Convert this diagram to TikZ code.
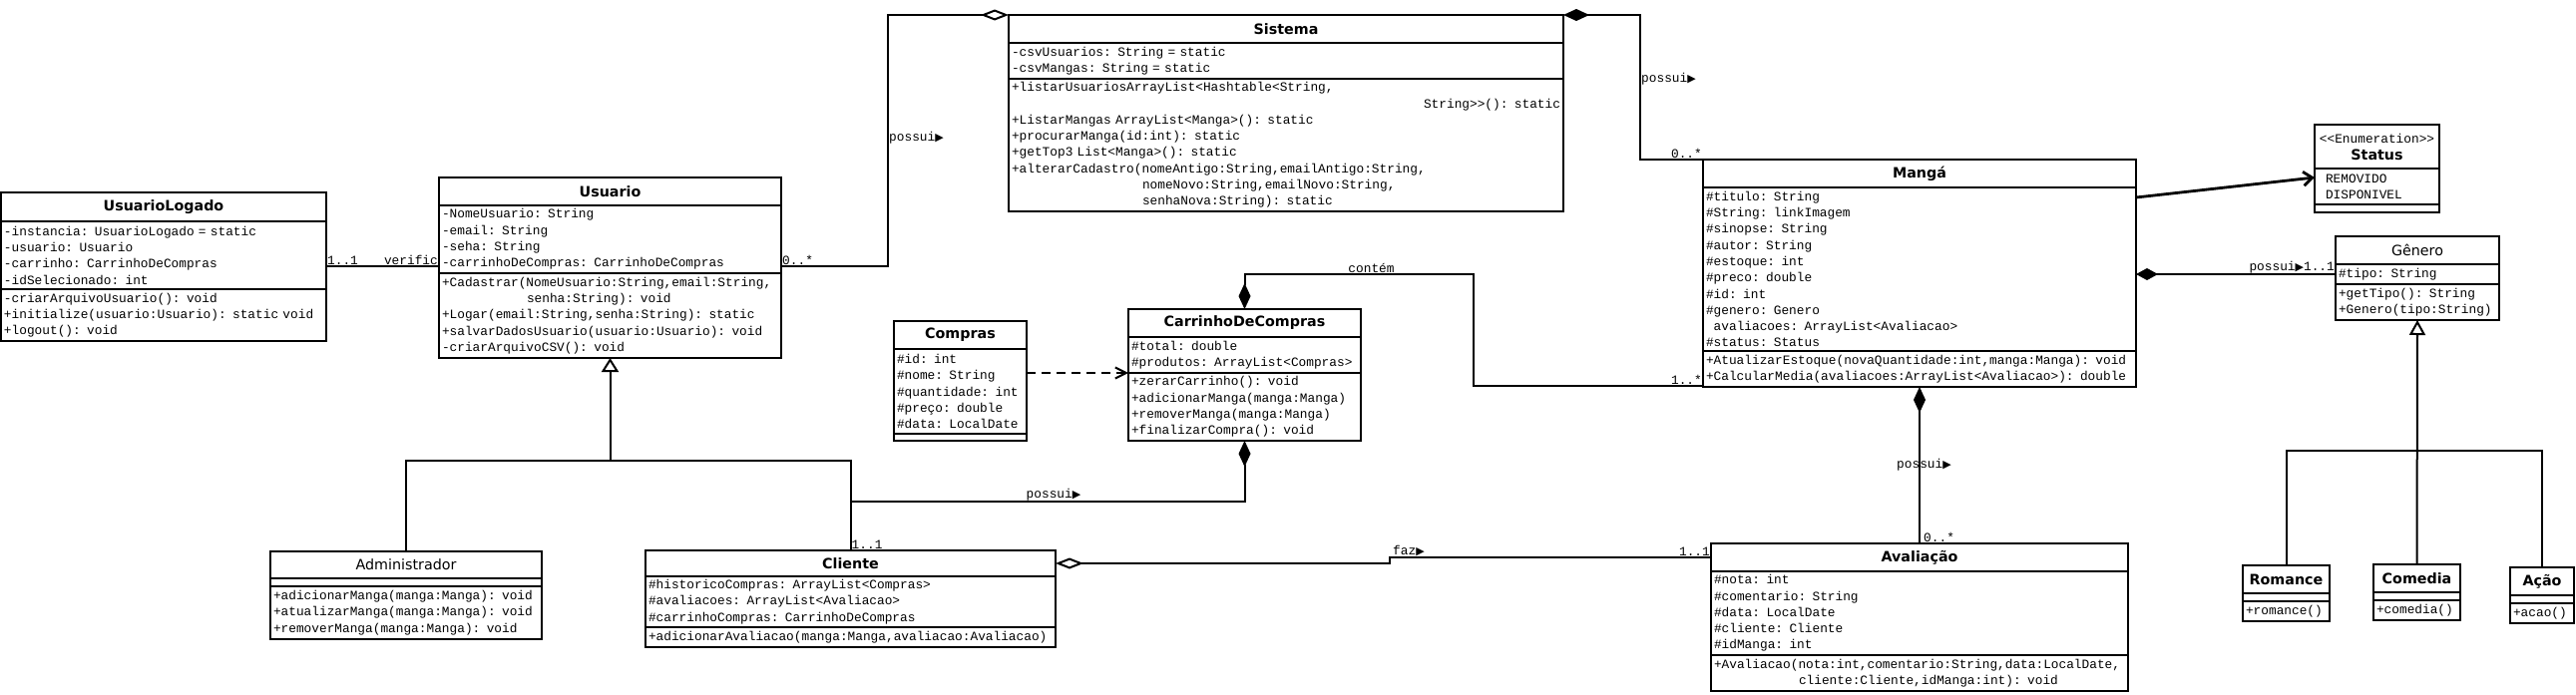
\documentclass[tikz,border=0pt]{standalone}
\usepackage{fontspec}
\setmonofont{Liberation Mono}
\newfontfamily\clsfont{DejaVu Sans}
\newfontfamily\trifont{DejaVu Sans}
\usetikzlibrary{arrows.meta}
\usetikzlibrary{calc}
\usetikzlibrary{positioning}

\newcommand{\membfont}{\ttfamily\fontsize{12.8}{16.3}\selectfont}
\newcommand{\dirtri}{{\trifont\fontsize{11}{11}\selectfont ▶}}

\begin{document}
\begin{tikzpicture}[x=1pt, y=-1pt,
	cname/.style={rectangle, draw=black, line width=2pt, fill=white, outer sep=0pt, inner xsep=3pt, inner ysep=0pt, anchor=north west, align=center, font=\clsfont\fontsize{14.3}{17}\selectfont\bfseries},
	cnamereg/.style={cname, font=\clsfont\fontsize{14.3}{17}\selectfont},
	cpart/.style={rectangle, draw=black, line width=2pt, fill=white, outer sep=0pt, inner xsep=3pt, inner ysep=0pt, anchor=north west, align=left, font=\membfont},
	lbl/.style={inner sep=1pt, font=\membfont},
	conn/.style={line width=2pt}]

\useasboundingbox (0,0) rectangle (2582,696);

% UsuarioLogado
\node at (1,193)[cname, text width=320pt, minimum height=29pt] (ulogado) {UsuarioLogado};
\node at (ulogado.south west)[cpart, text width=320pt, minimum height=68pt] (ulogadoA) {-instancia: UsuarioLogado = static\\-usuario: Usuario\\-carrinho: CarrinhoDeCompras\\-idSelecionado: int};
\node at (ulogadoA.south west)[cpart, text width=320pt, minimum height=52pt] (ulogadoM) {-criarArquivoUsuario(): void\\+initialize(usuario:Usuario): static void\\+logout(): void};

% Usuario
\node at (440,178)[cname, text width=337pt, minimum height=28pt] (usuario) {Usuario};
\node at (usuario.south west)[cpart, text width=337pt, minimum height=68pt] (usuarioA) {-NomeUsuario: String\\-email: String\\-seha: String\\-carrinhoDeCompras: CarrinhoDeCompras};
\node at (usuarioA.south west)[cpart, text width=337pt, minimum height=85pt] (usuarioM) {+Cadastrar(NomeUsuario:String,email:String,\\\hspace*{85pt}senha:String): void\\+Logar(email:String,senha:String): static\\+salvarDadosUsuario(usuario:Usuario): void\\-criarArquivoCSV(): void};

% Sistema
\node at (1011,15)[cname, text width=550pt, minimum height=28pt] (sistema) {Sistema};
\node at (sistema.south west)[cpart, text width=550pt, minimum height=36pt] (sistemaA) {-csvUsuarios: String = static\\-csvMangas: String = static};
\node at (sistemaA.south west)[cpart, text width=550pt, minimum height=133pt] (sistemaM) {+listarUsuariosArrayList<Hashtable<String,\\\hspace*{\fill}String>{}>(): static\\+ListarMangas ArrayList<Manga>(): static\\+procurarManga(id:int): static\\+getTop3 List<Manga>(): static\\+alterarCadastro(nomeAntigo:String,emailAntigo:String,\\\hspace*{131pt}nomeNovo:String,emailNovo:String,\\\hspace*{131pt}senhaNova:String): static};

% Manga
\node at (1707,160)[cname, text width=428pt, minimum height=28pt] (manga) {Mangá};
\node at (manga.south west)[cpart, text width=428pt, minimum height=164pt] (mangaA) {\#titulo: String\\\#String: linkImagem\\\#sinopse: String\\\#autor: String\\\#estoque: int\\\#preco: double\\\#id: int\\\#genero: Genero\\\hspace*{7.7pt}avaliacoes: ArrayList<Avaliacao>\\\#status: Status};
\node at (mangaA.south west)[cpart, text width=428pt, minimum height=36pt] (mangaM) {+AtualizarEstoque(novaQuantidade:int,manga:Manga): void\\+CalcularMedia(avaliacoes:ArrayList<Avaliacao>): double};

% Status
\node at (2320,125)[cname, text width=119pt, minimum height=44pt] (status) {{\membfont\mdseries <{}<Enumeration>{}>}\\Status};
\node at (status.south west)[cpart, text width=119pt, minimum height=36pt] (statusA) {\hspace*{8pt}REMOVIDO\\\hspace*{8pt}DISPONIVEL};
\node at (statusA.south west)[cpart, minimum width=125pt, minimum height=8pt] (statusM) {};

% Genero
\node at (2341,237)[cnamereg, text width=158pt, minimum height=28pt] (genero) {Gênero};
\node at (genero.south west)[cpart, text width=158pt, minimum height=20pt] (generoA) {\#tipo: String};
\node at (generoA.south west)[cpart, text width=158pt, minimum height=36pt] (generoM) {+getTipo(): String\\+Genero(tipo:String)};

% Romance, Comedia, Acao
\node at (2248,567)[cname, text width=81pt, minimum height=28pt] (romance) {Romance};
\node at (romance.south west)[cpart, minimum width=87pt, minimum height=8pt] (romanceA) {};
\node at (romanceA.south west)[cpart, text width=81pt, minimum height=20pt] (romanceM) {+romance()};
\node at (2379,566)[cname, text width=81pt, minimum height=28pt] (comedia) {Comedia};
\node at (comedia.south west)[cpart, minimum width=87pt, minimum height=8pt] (comediaA) {};
\node at (comediaA.south west)[cpart, text width=81pt, minimum height=20pt] (comediaM) {+comedia()};
\node at (2516,569)[cname, text width=58pt, minimum height=28pt] (acao) {Ação};
\node at (acao.south west)[cpart, minimum width=64pt, minimum height=8pt] (acaoA) {};
\node at (acaoA.south west)[cpart, text width=58pt, minimum height=20pt] (acaoM) {+acao()};

% Compras
\node at (896,322)[cname, text width=127pt, minimum height=28pt] (compras) {Compras};
\node at (compras.south west)[cpart, text width=127pt, minimum height=85pt] (comprasA) {\#id: int\\\#nome: String\\\#quantidade: int\\\#preço: double\\\#data: LocalDate};
\node at (comprasA.south west)[cpart, minimum width=133pt, minimum height=7pt] (comprasM) {};

% CarrinhoDeCompras
\node at (1131,310)[cname, text width=227pt, minimum height=28pt] (carrinho) {CarrinhoDeCompras};
\node at (carrinho.south west)[cpart, text width=227pt, minimum height=36pt] (carrinhoA) {\#total: double\\\#produtos: ArrayList<Compras>};
\node at (carrinhoA.south west)[cpart, text width=227pt, minimum height=68pt] (carrinhoM) {+zerarCarrinho(): void\\+adicionarManga(manga:Manga)\\+removerManga(manga:Manga)\\+finalizarCompra(): void};

% Administrador
\node at (271,553)[cnamereg, text width=266pt, minimum height=27pt] (admin) {Administrador};
\node at (admin.south west)[cpart, minimum width=272pt, minimum height=8pt] (adminA) {};
\node at (adminA.south west)[cpart, text width=266pt, minimum height=53pt] (adminM) {+adicionarManga(manga:Manga): void\\+atualizarManga(manga:Manga): void\\+removerManga(manga:Manga): void};

% Cliente
\node at (647,552)[cname, text width=405pt, minimum height=26pt] (cliente) {Cliente};
\node at (cliente.south west)[cpart, text width=405pt, minimum height=51pt] (clienteA) {\#historicoCompras: ArrayList<Compras>\\\#avaliacoes: ArrayList<Avaliacao>\\\#carrinhoCompras: CarrinhoDeCompras};
\node at (clienteA.south west)[cpart, text width=405pt, minimum height=20pt] (clienteM) {+adicionarAvaliacao(manga:Manga,avaliacao:Avaliacao)};

% Avaliacao
\node at (1715,545)[cname, text width=412pt, minimum height=28pt] (avaliacao) {Avaliação};
\node at (avaliacao.south west)[cpart, text width=412pt, minimum height=84pt] (avaliacaoA) {\#nota: int\\\#comentario: String\\\#data: LocalDate\\\#cliente: Cliente\\\#idManga: int};
\node at (avaliacaoA.south west)[cpart, text width=412pt, minimum height=36pt] (avaliacaoM) {+Avaliacao(nota:int,comentario:String,data:LocalDate,\\\hspace*{85pt}cliente:Cliente,idManga:int): void};

% connectors
\draw[conn] ([yshift=7pt]usuarioA.south west) -- ([yshift=7pt]usuarioA.south west -| ulogadoA.east);
\draw[conn, -{Diamond[open, length=28pt, width=11pt]}] ([yshift=7pt]usuarioA.south east) -| ([xshift=-121pt]sistema.north west) -- (sistema.north west);
\draw[conn, {Diamond[length=26pt, width=12pt]}-] (sistema.north east) -| ([xshift=-63pt]manga.north west) -- (manga.north west);
\draw[conn, line width=2.8pt, -{Straight Barb[length=9pt, width=14pt]}] ([yshift=-10pt]mangaA.north east) -- ([yshift=-9pt]statusA.north west);
\draw[conn, {Diamond[length=22pt, width=12pt]}-] (mangaA.east |- generoA.west) -- (generoA.west);

\coordinate (gjoin) at ([yshift=-131pt]generoM.south);
\draw[conn] (romance.north) |- (gjoin) -| (acao.north);
\draw[conn, -{Triangle[open, length=15pt, width=16pt]}] (comedia.north) -- (generoM.south);

\draw[conn, {Diamond[length=26pt, width=12pt]}-] (mangaM.south) -- (avaliacao.north);
\draw[conn, {Diamond[length=26pt, width=12pt]}-] (carrinho.north) -- ([yshift=35pt]carrinho.north) -| ([xshift=-230pt, yshift=1pt]mangaM.south west) -- ([yshift=1pt]mangaM.south west);
\draw[conn, dash pattern=on 9pt off 6pt, -{Straight Barb[length=11pt, width=11pt]}] (comprasA.east |- carrinhoM.north west) -- (carrinhoM.north west);

\coordinate (ujoin) at ([yshift=-103pt]usuarioM.south);
\draw[conn] (admin.north) |- (ujoin) -| (cliente.north);
\draw[conn, -{Triangle[open, length=14pt, width=17pt]}] (ujoin) -- (usuarioM.south);

\draw[conn, {Diamond[length=26pt, width=12pt]}-] (carrinhoM.south) |- ([yshift=49pt]cliente.north);
\draw[conn, {Diamond[open, length=28pt, width=11pt]}-] (cliente.east) -| ([xshift=-322pt]avaliacao.west) -- (avaliacao.west);

% labels
\node[lbl, anchor=south west] (m1) at ([yshift=7pt]usuarioA.south west -| ulogadoA.east) {1..1};
\node[lbl, anchor=south east] (v1) at ([yshift=7pt]usuarioA.south west) {verific};
\node[lbl, anchor=south west] (m2) at ([yshift=7pt]usuarioA.south east) {0..*};
\node[lbl, anchor=south west] (r1) at ([xshift=-121pt]sistemaM.west) {possui\dirtri};
\node[lbl, anchor=west] (r2) at ([xshift=77pt]sistemaA.south east) {possui\dirtri};
\node[lbl, anchor=south east] (m3) at (manga.north west) {0..*};
\node[lbl, anchor=south] (r3) at ([xshift=127pt, yshift=35pt]carrinho.north) {contém};
\node[lbl, anchor=south east] (m4) at ([yshift=1pt]mangaM.south west) {1..*};
\node[lbl, anchor=south east] (r4) at (generoA.west) {possui\dirtri 1..1};
\node[lbl, anchor=west] (r5) at ($(mangaM.south)!0.5!(avaliacao.north)+(-24,0)$) {possui\dirtri};
\node[lbl, anchor=south west] (m5) at ([xshift=3pt]avaliacao.north) {0..*};
\node[lbl, anchor=south west] (r6) at ([xshift=175pt, yshift=49pt]cliente.north) {possui\dirtri};
\node[lbl, anchor=south west] (m6) at (cliente.north) {1..1};
\node[lbl, anchor=south west] (r7) at ([xshift=-320pt]avaliacao.west) {faz\dirtri};
\node[lbl, anchor=south east] (m7) at (avaliacao.west) {1..1};

\end{tikzpicture}
\end{document}
